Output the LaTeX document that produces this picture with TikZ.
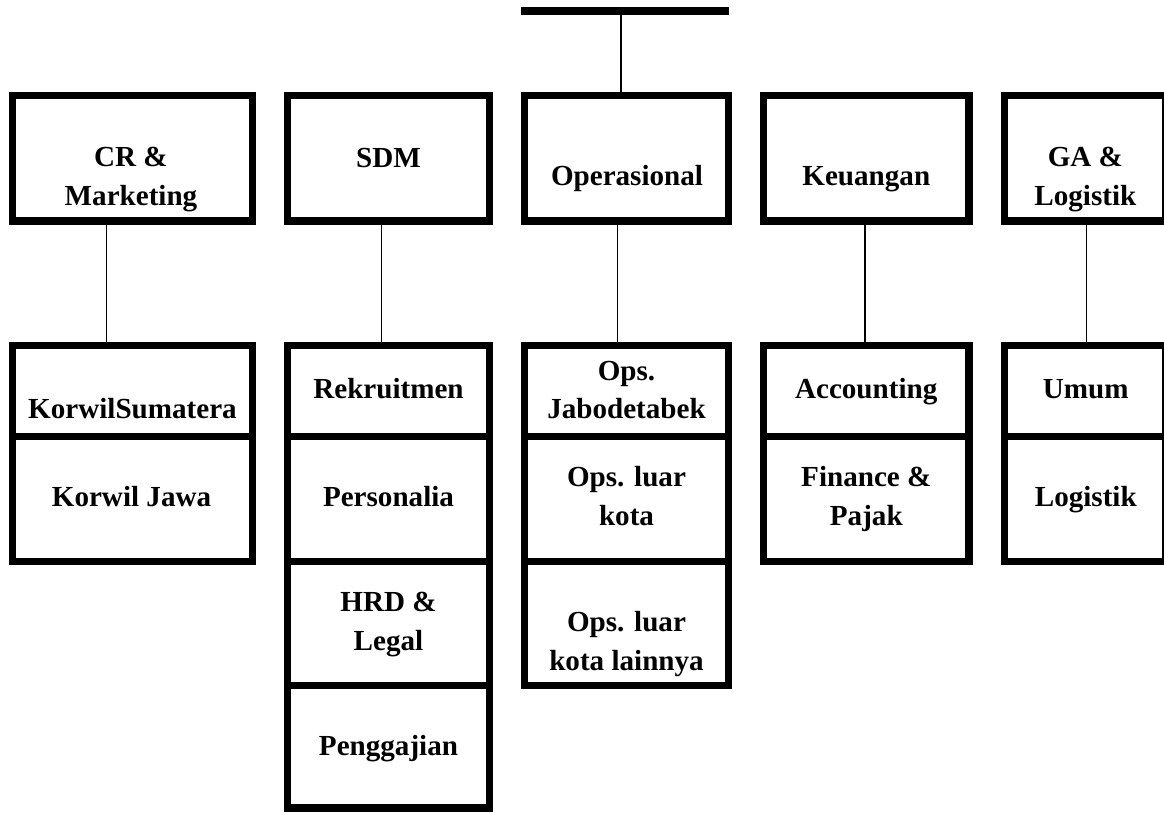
\documentclass[tikz,border=0pt]{standalone}
\usepackage{fontspec}
\setmainfont{Liberation Serif}
\newcommand\mylines[1]{\vtop{\baselineskip=38.3pt\lineskiplimit=-100pt\tabskip=0pt\halign{\hfil##\hfil\cr#1\crcr}}}
\tikzset{
  box/.style={draw=black, line width=7.3pt, inner sep=0pt, fill=white},
  conn/.style={draw=black, line width=1.3pt},
  lbl/.style={anchor=base, inner sep=0pt, text=black, font=\bfseries\fontsize{29.1pt}{38.3pt}\selectfont},
  colcr/.style={minimum width=239.7pt},
  colsdm/.style={minimum width=202pt},
  colops/.style={minimum width=204pt},
  colkeu/.style={minimum width=205.4pt},
  colga/.style={minimum width=161.6pt},
  rtop/.style={minimum height=125.4pt},
  rone/.style={minimum height=91.05pt},
  rtwo/.style={minimum height=124.7pt},
  rthree/.style={minimum height=123.9pt},
  rfour/.style={minimum height=122.75pt}
}
\begin{document}
\begin{tikzpicture}[x=1pt,y=-1pt]
\useasboundingbox[fill=white] (0,0) rectangle (1164,812);

% top bar
\node[fill=black, draw=none, inner sep=0pt, minimum width=208.6pt, minimum height=7.4pt] (bar) at (625,11) {};

% top row boxes
\node[box,colcr,rtop]  (cr)  at (132.5,158.35) {};
\node[box,colsdm,rtop] (sdm) at (388.65,158.35) {};
\node[box,colops,rtop] (ops) at (626.35,158.35) {};
\node[box,colkeu,rtop] (keu) at (866.35,158.35) {};
\node[box,colga,rtop]  (ga)  at (1085.2,158.35) {};

% CR column
\node[box,colcr,rone] (cr1) at (132.5,391.175) {};
\node[box,colcr,rtwo] (cr2) at (132.5,499.05) {};
% SDM column
\node[box,colsdm,rone]   (sdm1) at (388.65,391.175) {};
\node[box,colsdm,rtwo]   (sdm2) at (388.65,499.05) {};
\node[box,colsdm,rthree] (sdm3) at (388.65,623.35) {};
\node[box,colsdm,rfour]  (sdm4) at (388.65,746.675) {};
% Ops column
\node[box,colops,rone]   (ops1) at (626.35,391.175) {};
\node[box,colops,rtwo]   (ops2) at (626.35,499.05) {};
\node[box,colops,rthree] (ops3) at (626.35,623.35) {};
% Keuangan column
\node[box,colkeu,rone] (keu1) at (866.35,391.175) {};
\node[box,colkeu,rtwo] (keu2) at (866.35,499.05) {};
% GA column
\node[box,colga,rone] (ga1) at (1085.2,391.175) {};
\node[box,colga,rtwo] (ga2) at (1085.2,499.05) {};

% connectors
\coordinate (xtop) at (621,0);
\coordinate (xcr)  at (106.7,0);
\coordinate (xsdm) at (381.7,0);
\coordinate (xops) at (617.3,0);
\coordinate (xkeu) at (865,0);
\coordinate (xga)  at (1086.7,0);
\draw[conn] (bar.south -| xtop) -- (ops.north -| xtop);
\draw[conn] (cr.south -| xcr) -- (cr1.north -| xcr);
\draw[conn] (sdm.south -| xsdm) -- (sdm1.north -| xsdm);
\draw[conn] (ops.south -| xops) -- (ops1.north -| xops);
\draw[conn] (keu.south -| xkeu) -- (keu1.north -| xkeu);
\draw[conn] (ga.south -| xga) -- (ga1.north -| xga);

% labels, top row
\node[lbl] (tcr)  at (131,166.7)  {\mylines{CR \&\cr Marketing}};
\node[lbl] (tsdm) at (388.5,167.3) {SDM};
\node[lbl] (tops) at (627,185)    {Operasional};
\node[lbl] (tkeu) at (866.3,185)  {Keuangan};
\node[lbl] (tga)  at (1085.4,166.7) {\mylines{GA \&\cr Logistik}};

% labels, sub units
\node[lbl] (tcr1) at (132.5,418.3) {KorwilSumatera};
\node[lbl] (tcr2) at (131.5,506.7) {Korwil Jawa};
\node[lbl] (tsdm1) at (388.5,398.3) {Rekruitmen};
\node[lbl] (tsdm2) at (388.5,506.7) {Personalia};
\node[lbl] (tsdm3) at (388.5,611.7) {\mylines{HRD \&\cr Legal}};
\node[lbl] (tsdm4) at (388.5,755)   {Penggajian};
\node[lbl] (tops1) at (626.5,380)   {\mylines{Ops.\cr Jabodetabek}};
\node[lbl] (tops2) at (626.5,486.7) {\mylines{Ops. luar\cr kota}};
\node[lbl] (tops3) at (626.5,631.7) {\mylines{Ops. luar\cr kota lainnya}};
\node[lbl] (tkeu1) at (866.2,398.3) {Accounting};
\node[lbl] (tkeu2) at (866.3,486.7) {\mylines{Finance \&\cr Pajak}};
\node[lbl] (tga1) at (1085.8,398.3) {Umum};
\node[lbl] (tga2) at (1085.8,506.7) {Logistik};
\end{tikzpicture}
\end{document}
